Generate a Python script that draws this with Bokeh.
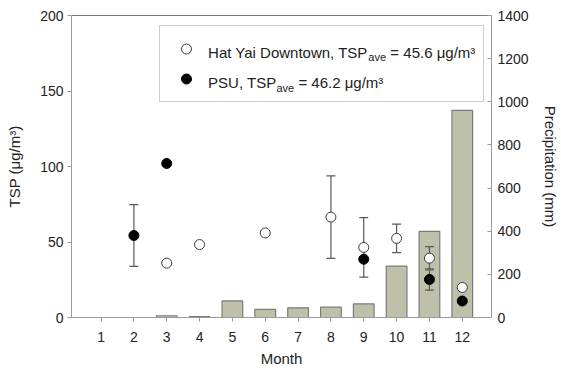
from bokeh.plotting import figure
from bokeh.models import (Range1d, LinearAxis, FixedTicker, Label, Legend, LegendItem,
                          ColumnDataSource)
from bokeh.embed import file_html
from bokeh.resources import INLINE

# Monthly precipitation (mm)
months = list(range(1, 13))
precip = [0, 0, 8, 4, 77, 38, 45, 48, 63, 238, 399, 960]

# TSP, Hat Yai Downtown (ug/m3)
hy_months = [3, 4, 6, 8, 9, 10, 11, 12]
hy_tsp = [36.0, 48.3, 56.0, 66.5, 46.4, 52.4, 39.3, 19.9]
hy_err = [0, 0, 0, 27.3, 19.7, 9.5, 7.7, 0]

# TSP, PSU (ug/m3)
psu_months = [2, 3, 9, 11, 12]
psu_tsp = [54.3, 102.0, 38.6, 25.2, 10.9]
psu_err = [20.5, 0, 0, 7.1, 0]

tsp_ticks = [0, 50, 100, 150, 200]
precip_ticks = [0, 200, 400, 600, 800, 1000, 1200, 1400]

FONT = "Liberation Sans"
AXIS_GREY = "#9a9a9a"
TEXT = "#222222"

p = figure(width=561, height=376, output_backend="svg", toolbar_location=None,
           x_range=Range1d(0.1, 12.89), y_range=Range1d(0, 200),
           min_border_left=71, min_border_right=69, min_border_top=15, min_border_bottom=59)
p.outline_line_color = None
p.grid.visible = False
p.background_fill_color = "white"
p.extra_y_ranges = {"precip": Range1d(0, 1400)}

# precipitation bars on the secondary axis
p.vbar(x=months, top=precip, width=0.63, y_range_name="precip",
       fill_color="#bfc0aa", line_color="#7a7a7a", line_width=1.2)


def error_bars(xs, ys, errs):
    sel = [(x, y, e) for x, y, e in zip(xs, ys, errs) if e > 0]
    src = ColumnDataSource(dict(
        x=[s[0] for s in sel],
        lo=[s[1] - s[2] for s in sel],
        hi=[s[1] + s[2] for s in sel]))
    p.segment(x0="x", x1="x", y0="lo", y1="hi", source=src, line_color="#5a5a5a", line_width=1.2)
    p.scatter(x="x", y="hi", source=src, marker="dash", size=9, line_color="#5a5a5a", line_width=1.2)
    p.scatter(x="x", y="lo", source=src, marker="dash", size=9, line_color="#5a5a5a", line_width=1.2)


error_bars(hy_months, hy_tsp, hy_err)
error_bars(psu_months, psu_tsp, psu_err)

r_hy = p.scatter(x=hy_months, y=hy_tsp, size=10, fill_color="white",
                 line_color="#3a3a3a", line_width=1)
r_psu = p.scatter(x=psu_months, y=psu_tsp, size=10, fill_color="black", line_color="black")

# axes
p.xaxis.ticker = FixedTicker(ticks=months)
p.yaxis.ticker = FixedTicker(ticks=tsp_ticks)
for ax in (p.xaxis[0], p.yaxis[0]):
    ax.axis_line_color = AXIS_GREY
    ax.major_tick_line_color = AXIS_GREY
    ax.minor_tick_line_color = None
    ax.major_tick_in = 0
    ax.major_tick_out = 4
    ax.major_label_text_font = FONT
    ax.major_label_text_font_size = "14px"
    ax.major_label_text_color = TEXT
    ax.axis_label_text_font = FONT
    ax.axis_label_text_font_size = "15px"
    ax.axis_label_text_font_style = "normal"
    ax.axis_label_text_color = TEXT
p.xaxis.axis_label = "Month"
p.yaxis.axis_label = "TSP (\u03bcg/m\u00b3)"
p.xaxis.major_label_standoff = 10
p.xaxis.axis_label_standoff = 5
p.yaxis.major_label_standoff = 4
p.yaxis.axis_label_standoff = 14

right = LinearAxis(y_range_name="precip", ticker=FixedTicker(ticks=precip_ticks),
                   axis_label="Precipitation (mm)")
right.axis_line_color = AXIS_GREY
right.major_tick_line_color = AXIS_GREY
right.minor_tick_line_color = None
right.major_tick_in = 4
right.major_tick_out = 0
right.major_label_text_font = FONT
right.major_label_text_font_size = "14px"
right.major_label_text_color = TEXT
right.axis_label_text_font = FONT
right.axis_label_text_font_size = "15px"
right.axis_label_text_font_style = "normal"
right.axis_label_text_color = TEXT
right.major_label_standoff = 6
right.axis_label_standoff = 10
p.add_layout(right, "right")

# top border line
top = LinearAxis(ticker=FixedTicker(ticks=[]), axis_line_color="#777777",
                 major_label_text_font_size="0px")
top.major_tick_line_color = None
top.minor_tick_line_color = None
p.add_layout(top, "above")

# legend: markers and frame from Legend, texts as labels
legend = Legend(items=[LegendItem(label=" ", renderers=[r_hy]),
                       LegendItem(label=" ", renderers=[r_psu])],
                location=(88, 215), orientation="vertical",
                padding=10, spacing=5, glyph_width=32, glyph_height=25,
                label_width=267, label_height=25, label_standoff=4, margin=0,
                border_line_color="#9a9a9a", border_line_width=1,
                background_fill_alpha=0)
p.add_layout(legend, "center")


def legend_text(x, y, main, sub, rest, w_main):
    kw = dict(text_font=FONT, text_baseline="middle", text_color=TEXT)
    p.add_layout(Label(x=x, y=y, text=main, text_font_size="15px", **kw))
    x2 = x + w_main
    p.add_layout(Label(x=x2, y=y, y_offset=-5, text=sub, text_font_size="11px", **kw))
    p.add_layout(Label(x=x2 + 0.67, y=y, text=rest, text_font_size="15px", **kw))


legend_text(4.26, 175.5, "Hat Yai Downtown, TSP", "ave", "= 45.6 \u03bcg/m\u00b3", 4.88)
legend_text(4.26, 155.5, "PSU, TSP", "ave", "= 46.2 \u03bcg/m\u00b3", 2.08)

open("out.html", "w").write(file_html(p, INLINE))
